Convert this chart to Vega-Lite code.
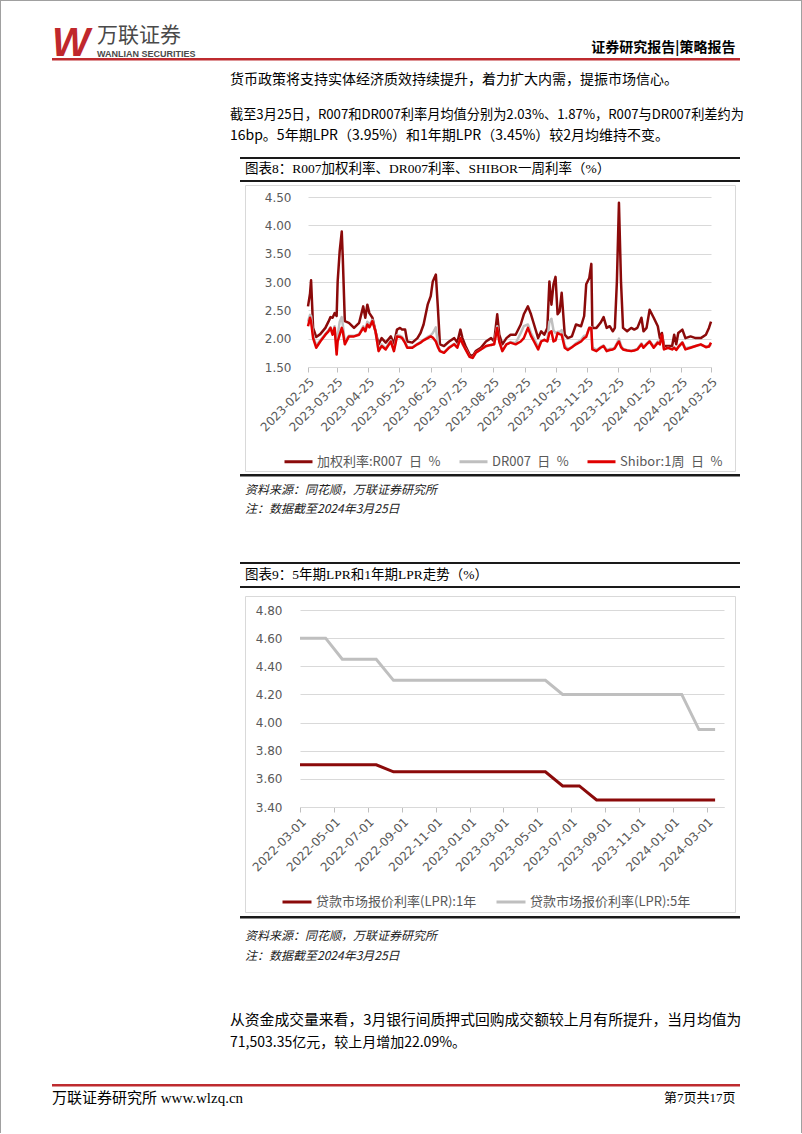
{
 "$schema": "https://vega.github.io/schema/vega-lite/v6.json",
 "background": "white",
 "padding": 0,
 "config": {"view": {"stroke": null}},
 "spacing": 0,
 "bounds": "flush",
 "resolve": {"scale": {"color": "independent"}, "legend": {"color": "independent"}},
 "vconcat": [
   {"width": 802, "height": 1, "data": {"values": []}, "mark": "point", "view": {"fill": "#A0A0A0", "stroke": null}},
   {"spacing": 0, "bounds": "flush", "hconcat": [
     {"width": 1, "height": 1132, "data": {"values": []}, "mark": "point", "view": {"fill": "#A0A0A0", "stroke": null}},
     {"width": 800, "height": 1132, "data": {"values": []}, "mark": "point"},
     {"width": 1, "height": 1132, "data": {"values": []}, "mark": "point", "view": {"fill": "#A0A0A0", "stroke": null}}
   ]},
   {"spacing": 0, "bounds": "flush", "hconcat": [
     {"width": 194, "height": 69, "data": {"values": [{"t": "万联证券"}]}, "mark": {"type": "text", "align": "left", "baseline": "middle", "font": "Noto Sans CJK SC", "fontSize": 21, "fontWeight": "normal", "color": "#4A4A4A"}, "encoding": {"text": {"field": "t", "type": "nominal"}}}
   ]},
   {"spacing": 0, "bounds": "flush", "hconcat": [
     {"width": 104, "height": 85, "data": {"values": [{"t": "W"}]}, "mark": {"type": "text", "align": "left", "baseline": "middle", "font": "Liberation Sans", "fontSize": 40, "fontWeight": "bold", "fontStyle": "italic", "color": "#C0282D"}, "encoding": {"text": {"field": "t", "type": "nominal"}}}
   ]},
   {"spacing": 0, "bounds": "flush", "hconcat": [
     {"width": 735, "height": 93, "data": {"values": []}, "mark": "point"},
     {"width": 1, "height": 93, "data": {"values": [{"t": "证券研究报告|策略报告"}]}, "mark": {"type": "text", "align": "right", "baseline": "middle", "font": "Noto Sans CJK SC", "fontSize": 14, "fontWeight": "bold", "color": "#000000"}, "encoding": {"text": {"field": "t", "type": "nominal"}}}
   ]},
   {"spacing": 0, "bounds": "flush", "hconcat": [
     {"width": 194, "height": 105, "data": {"values": [{"t": "WANLIAN SECURITIES"}]}, "mark": {"type": "text", "align": "left", "baseline": "middle", "font": "Liberation Sans", "fontSize": 9, "fontWeight": "bold", "color": "#4A4A4A"}, "encoding": {"text": {"field": "t", "type": "nominal"}}}
   ]},
   {"width": 1, "height": 56.5, "data": {"values": []}, "mark": "point"},
   {"spacing": 0, "bounds": "flush", "hconcat": [
     {"width": 52, "height": 2.5, "data": {"values": []}, "mark": "point"},
     {"width": 688, "height": 2.5, "data": {"values": []}, "mark": "point", "view": {"fill": "#BE2B2F", "stroke": null}}
   ]},
   {"width": 1, "height": 2.5, "data": {"values": []}, "mark": "point"},
   {"width": 460, "height": 38, "data": {"values": [{"t": "货币政策将支持实体经济质效持续提升，着力扩大内需，提振市场信心。"}]}, "mark": {"type": "text", "align": "left", "baseline": "middle", "font": "Noto Sans CJK SC", "fontSize": 14, "color": "#000000"}, "encoding": {"text": {"field": "t", "type": "nominal"}}},
   {"width": 460, "height": 32, "data": {"values": [{"t": "截至3月25日，R007和DR007利率月均值分别为2.03%、1.87%，R007与DR007利差约为"}]}, "mark": {"type": "text", "align": "left", "baseline": "middle", "font": "Noto Sans CJK SC", "fontSize": 13.2, "color": "#000000"}, "encoding": {"text": {"field": "t", "type": "nominal"}}},
   {"width": 460, "height": 10, "data": {"values": [{"t": "16bp。5年期LPR（3.95%）和1年期LPR（3.45%）较2月均维持不变。"}]}, "mark": {"type": "text", "align": "left", "baseline": "middle", "font": "Noto Sans CJK SC", "fontSize": 14, "color": "#000000"}, "encoding": {"text": {"field": "t", "type": "nominal"}}},
   {"width": 1, "height": 16, "data": {"values": []}, "mark": "point"},
   {"spacing": 0, "bounds": "flush", "hconcat": [
     {"width": 240, "height": 2, "data": {"values": []}, "mark": "point"},
     {"width": 500, "height": 2, "data": {"values": []}, "mark": "point", "view": {"fill": "#1A1A1A", "stroke": null}}
   ]},
   {"width": 1, "height": 2, "data": {"values": []}, "mark": "point"},
   {"width": 490, "height": 20, "data": {"values": [{"t": "图表8：R007加权利率、DR007利率、SHIBOR一周利率（%）"}]}, "mark": {"type": "text", "align": "left", "baseline": "middle", "font": "'Liberation Serif', 'Noto Sans CJK SC'", "fontSize": 13.5, "color": "#000000"}, "encoding": {"text": {"field": "t", "type": "nominal"}}},
   {"width": 1, "height": 1, "data": {"values": []}, "mark": "point"},
   {"spacing": 0, "bounds": "flush", "hconcat": [
     {"width": 240, "height": 2, "data": {"values": []}, "mark": "point"},
     {"width": 500, "height": 2, "data": {"values": []}, "mark": "point", "view": {"fill": "#1A1A1A", "stroke": null}}
   ]},
   {"width": 1, "height": 5, "data": {"values": []}, "mark": "point"},
   {"spacing": 0, "bounds": "flush", "hconcat": [
     {"width": 245, "height": 286, "data": {"values": []}, "mark": "point"},
     {"width": 490, "height": 286, "data": {"values": []}, "mark": "point", "view": {"fill": null, "stroke": "#D9D9D9", "strokeWidth": 1}}
   ]},
   {"width": 1, "height": 12, "data": {"values": []}, "mark": "point"},
   {"spacing": 0, "bounds": "flush", "resolve": {"scale": {"color": "independent"}, "legend": {"color": "independent"}}, "hconcat": [
     {"width": 308, "height": 170, "data": {"values": []}, "mark": "point"},
     {"width": 403, "height": 170,
      "data": {"values": [
{"d":"2023-02-25","R":2.57,"DR":2.30,"S":2.22},
{"d":"2023-02-27","R":2.80,"DR":2.42,"S":2.37},
{"d":"2023-02-28","R":3.03,"DR":2.40,"S":2.30},
{"d":"2023-03-02","R":2.19,"DR":2.05,"S":2.01},
{"d":"2023-03-05","R":2.03,"DR":1.88,"S":1.84},
{"d":"2023-03-09","R":2.08,"DR":1.97,"S":1.95},
{"d":"2023-03-14","R":2.19,"DR":2.08,"S":2.07},
{"d":"2023-03-17","R":2.30,"DR":2.15,"S":2.13},
{"d":"2023-03-19","R":2.38,"DR":2.20,"S":2.19},
{"d":"2023-03-21","R":2.37,"DR":2.10,"S":2.07},
{"d":"2023-03-23","R":2.45,"DR":2.22,"S":2.19},
{"d":"2023-03-25","R":2.40,"DR":1.90,"S":1.72},
{"d":"2023-03-26","R":3.01,"DR":2.05,"S":1.95},
{"d":"2023-03-28","R":3.55,"DR":2.30,"S":2.07},
{"d":"2023-03-30","R":3.89,"DR":2.38,"S":2.19},
{"d":"2023-03-31","R":3.43,"DR":2.25,"S":2.13},
{"d":"2023-04-02","R":2.31,"DR":1.95,"S":1.90},
{"d":"2023-04-06","R":2.28,"DR":2.05,"S":2.04},
{"d":"2023-04-11","R":2.19,"DR":2.05,"S":2.04},
{"d":"2023-04-16","R":2.28,"DR":2.08,"S":2.07},
{"d":"2023-04-20","R":2.57,"DR":2.22,"S":2.19},
{"d":"2023-04-22","R":2.37,"DR":2.15,"S":2.13},
{"d":"2023-04-24","R":2.60,"DR":2.30,"S":2.25},
{"d":"2023-04-26","R":2.45,"DR":2.25,"S":2.20},
{"d":"2023-04-29","R":2.37,"DR":2.33,"S":2.31},
{"d":"2023-05-02","R":2.13,"DR":2.12,"S":2.13},
{"d":"2023-05-05","R":1.90,"DR":1.80,"S":1.78},
{"d":"2023-05-08","R":2.01,"DR":1.90,"S":1.87},
{"d":"2023-05-12","R":1.93,"DR":1.83,"S":1.81},
{"d":"2023-05-17","R":2.04,"DR":1.97,"S":1.95},
{"d":"2023-05-20","R":1.90,"DR":1.80,"S":1.78},
{"d":"2023-05-23","R":2.16,"DR":2.06,"S":2.04},
{"d":"2023-05-26","R":2.19,"DR":2.05,"S":2.03},
{"d":"2023-05-28","R":2.16,"DR":2.03,"S":2.01},
{"d":"2023-05-31","R":2.16,"DR":1.95,"S":1.92},
{"d":"2023-06-02","R":1.95,"DR":1.85,"S":1.84},
{"d":"2023-06-07","R":1.93,"DR":1.85,"S":1.84},
{"d":"2023-06-12","R":2.01,"DR":1.91,"S":1.90},
{"d":"2023-06-15","R":2.10,"DR":1.94,"S":1.93},
{"d":"2023-06-18","R":2.25,"DR":1.98,"S":1.97},
{"d":"2023-06-22","R":2.60,"DR":2.03,"S":2.01},
{"d":"2023-06-25","R":2.75,"DR":2.06,"S":2.04},
{"d":"2023-06-27","R":3.01,"DR":2.10,"S":2.02},
{"d":"2023-06-30","R":3.13,"DR":2.20,"S":1.95},
{"d":"2023-07-02","R":2.54,"DR":1.90,"S":1.85},
{"d":"2023-07-04","R":1.90,"DR":1.78,"S":1.78},
{"d":"2023-07-08","R":1.87,"DR":1.76,"S":1.75},
{"d":"2023-07-13","R":1.95,"DR":1.85,"S":1.84},
{"d":"2023-07-18","R":2.01,"DR":1.91,"S":1.90},
{"d":"2023-07-21","R":1.93,"DR":1.85,"S":1.84},
{"d":"2023-07-24","R":2.16,"DR":2.00,"S":2.01},
{"d":"2023-07-26","R":2.01,"DR":1.90,"S":1.92},
{"d":"2023-07-29","R":1.87,"DR":1.82,"S":1.81},
{"d":"2023-08-02","R":1.72,"DR":1.68,"S":1.68},
{"d":"2023-08-05","R":1.69,"DR":1.66,"S":1.66},
{"d":"2023-08-08","R":1.78,"DR":1.75,"S":1.75},
{"d":"2023-08-13","R":1.84,"DR":1.81,"S":1.81},
{"d":"2023-08-18","R":1.95,"DR":1.86,"S":1.87},
{"d":"2023-08-23","R":2.01,"DR":1.89,"S":1.89},
{"d":"2023-08-26","R":1.95,"DR":1.90,"S":1.90},
{"d":"2023-08-29","R":2.43,"DR":2.22,"S":2.19},
{"d":"2023-08-31","R":2.07,"DR":1.95,"S":1.95},
{"d":"2023-09-03","R":1.90,"DR":1.79,"S":1.78},
{"d":"2023-09-07","R":2.01,"DR":1.90,"S":1.90},
{"d":"2023-09-11","R":2.07,"DR":1.94,"S":1.93},
{"d":"2023-09-16","R":2.07,"DR":1.92,"S":1.90},
{"d":"2023-09-21","R":2.25,"DR":2.10,"S":1.95},
{"d":"2023-09-24","R":2.43,"DR":2.22,"S":2.01},
{"d":"2023-09-28","R":2.57,"DR":2.25,"S":2.19},
{"d":"2023-10-01","R":2.43,"DR":2.10,"S":2.05},
{"d":"2023-10-04","R":2.25,"DR":2.00,"S":1.95},
{"d":"2023-10-08","R":2.01,"DR":1.85,"S":1.81},
{"d":"2023-10-11","R":2.13,"DR":1.96,"S":1.95},
{"d":"2023-10-14","R":2.07,"DR":1.98,"S":1.98},
{"d":"2023-10-17","R":2.19,"DR":1.97,"S":1.95},
{"d":"2023-10-19","R":3.01,"DR":2.30,"S":2.10},
{"d":"2023-10-21","R":2.60,"DR":2.35,"S":2.13},
{"d":"2023-10-23","R":2.96,"DR":2.15,"S":1.95},
{"d":"2023-10-25","R":3.09,"DR":2.10,"S":1.97},
{"d":"2023-10-27","R":2.43,"DR":2.12,"S":2.10},
{"d":"2023-10-29","R":2.48,"DR":2.12,"S":2.08},
{"d":"2023-10-31","R":2.81,"DR":2.15,"S":2.07},
{"d":"2023-11-03","R":2.07,"DR":1.88,"S":1.84},
{"d":"2023-11-06","R":2.01,"DR":1.82,"S":1.80},
{"d":"2023-11-10","R":2.04,"DR":1.85,"S":1.85},
{"d":"2023-11-14","R":2.25,"DR":1.92,"S":1.90},
{"d":"2023-11-19","R":2.22,"DR":1.98,"S":1.95},
{"d":"2023-11-22","R":2.40,"DR":2.05,"S":2.01},
{"d":"2023-11-24","R":2.96,"DR":2.05,"S":2.03},
{"d":"2023-11-27","R":3.07,"DR":2.20,"S":2.19},
{"d":"2023-11-29","R":3.32,"DR":2.20,"S":2.19},
{"d":"2023-11-30","R":2.19,"DR":1.85,"S":1.81},
{"d":"2023-12-04","R":2.19,"DR":1.80,"S":1.78},
{"d":"2023-12-08","R":2.28,"DR":1.85,"S":1.84},
{"d":"2023-12-11","R":2.38,"DR":1.88,"S":1.87},
{"d":"2023-12-14","R":2.19,"DR":1.80,"S":1.78},
{"d":"2023-12-17","R":2.22,"DR":1.82,"S":1.80},
{"d":"2023-12-20","R":2.13,"DR":1.82,"S":1.81},
{"d":"2023-12-22","R":2.19,"DR":1.85,"S":1.83},
{"d":"2023-12-24","R":3.01,"DR":1.92,"S":1.90},
{"d":"2023-12-26","R":4.40,"DR":2.00,"S":1.95},
{"d":"2023-12-28","R":3.01,"DR":1.88,"S":1.85},
{"d":"2023-12-30","R":2.19,"DR":1.82,"S":1.81},
{"d":"2024-01-03","R":2.13,"DR":1.80,"S":1.79},
{"d":"2024-01-07","R":2.19,"DR":1.79,"S":1.78},
{"d":"2024-01-10","R":2.16,"DR":1.80,"S":1.79},
{"d":"2024-01-13","R":2.19,"DR":1.82,"S":1.81},
{"d":"2024-01-17","R":2.37,"DR":1.92,"S":1.90},
{"d":"2024-01-19","R":2.13,"DR":1.85,"S":1.84},
{"d":"2024-01-22","R":2.19,"DR":1.91,"S":1.90},
{"d":"2024-01-25","R":2.51,"DR":1.96,"S":1.95},
{"d":"2024-01-29","R":2.37,"DR":1.86,"S":1.84},
{"d":"2024-02-02","R":2.22,"DR":1.95,"S":1.93},
{"d":"2024-02-04","R":2.01,"DR":1.92,"S":1.90},
{"d":"2024-02-06","R":2.10,"DR":2.05,"S":2.07},
{"d":"2024-02-08","R":1.87,"DR":1.82,"S":1.81},
{"d":"2024-02-12","R":1.87,"DR":1.84,"S":1.84},
{"d":"2024-02-16","R":1.87,"DR":1.82,"S":1.81},
{"d":"2024-02-18","R":2.07,"DR":1.85,"S":1.84},
{"d":"2024-02-20","R":1.90,"DR":1.81,"S":1.80},
{"d":"2024-02-22","R":2.10,"DR":1.86,"S":1.85},
{"d":"2024-02-26","R":2.16,"DR":1.94,"S":1.93},
{"d":"2024-02-29","R":2.01,"DR":1.83,"S":1.81},
{"d":"2024-03-05","R":2.04,"DR":1.85,"S":1.84},
{"d":"2024-03-10","R":2.01,"DR":1.87,"S":1.87},
{"d":"2024-03-15","R":2.01,"DR":1.89,"S":1.90},
{"d":"2024-03-20","R":2.07,"DR":1.86,"S":1.85},
{"d":"2024-03-23","R":2.19,"DR":1.87,"S":1.86},
{"d":"2024-03-25","R":2.30,"DR":1.90,"S":1.93}
      ]},
      "transform": [{"fold": ["R", "DR", "S"], "as": ["s", "v"]}],
      "mark": {"type": "line", "strokeWidth": 2.5, "strokeJoin": "round"},
      "encoding": {
        "x": {"field": "d", "type": "temporal",
              "scale": {"type": "utc", "domain": [{"year": 2023, "month": 2, "date": 25, "utc": true}, {"year": 2024, "month": 3, "date": 25, "utc": true}]},
              "axis": {"title": null, "format": "%Y-%m-%d", "labelAngle": -45, "labelAlign": "right", "labelBaseline": "top", "labelPadding": 4, "labelFont": "DejaVu Sans", "labelFontSize": 12, "labelColor": "#595959", "labelOverlap": false, "labelFlush": false, "grid": false, "domainColor": "#D9D9D9", "tickColor": "#BFBFBF", "tickSize": 5,
                "values": [{"year": 2023, "month": 2, "date": 25, "utc": true}, {"year": 2023, "month": 3, "date": 25, "utc": true}, {"year": 2023, "month": 4, "date": 25, "utc": true}, {"year": 2023, "month": 5, "date": 25, "utc": true}, {"year": 2023, "month": 6, "date": 25, "utc": true}, {"year": 2023, "month": 7, "date": 25, "utc": true}, {"year": 2023, "month": 8, "date": 25, "utc": true}, {"year": 2023, "month": 9, "date": 25, "utc": true}, {"year": 2023, "month": 10, "date": 25, "utc": true}, {"year": 2023, "month": 11, "date": 25, "utc": true}, {"year": 2023, "month": 12, "date": 25, "utc": true}, {"year": 2024, "month": 1, "date": 25, "utc": true}, {"year": 2024, "month": 2, "date": 25, "utc": true}, {"year": 2024, "month": 3, "date": 25, "utc": true}]}},
        "y": {"field": "v", "type": "quantitative",
              "scale": {"domain": [1.5, 4.5], "nice": false, "zero": false},
              "axis": {"title": null, "values": [1.5, 2, 2.5, 3, 3.5, 4, 4.5], "format": ".2f", "labelOverlap": false, "domain": false, "ticks": false, "grid": true, "gridColor": "#D9D9D9", "labelPadding": 17, "labelFont": "DejaVu Sans", "labelFontSize": 12, "labelColor": "#595959"}},
        "color": {"field": "s", "type": "nominal",
              "scale": {"domain": ["R", "DR", "S"], "range": ["#8B0A0A", "#BFBFBF", "#E00000"]},
              "legend": {"orient": "none", "legendX": -25, "legendY": 249, "direction": "horizontal", "title": null, "symbolType": "stroke", "symbolSize": 784, "symbolStrokeWidth": 3, "labelFont": "Noto Sans CJK SC", "labelFontSize": 13, "labelColor": "#595959", "columnPadding": 12, "labelOffset": 3, "labelLimit": 300,
                "labelExpr": "datum.value == 'R' ? '加权利率:R007\u2002日\u2002%' : datum.value == 'DR' ? 'DR007\u2002日\u2002%' : 'Shibor:1周\u2002日\u2002%'"}}
      }}
   ]},
   {"width": 1, "height": 277, "data": {"values": []}, "mark": "point"},
   {"spacing": 0, "bounds": "flush", "hconcat": [
     {"width": 240, "height": 2.5, "data": {"values": []}, "mark": "point"},
     {"width": 500, "height": 2.5, "data": {"values": []}, "mark": "point", "view": {"fill": "#1A1A1A", "stroke": null}}
   ]},
   {"width": 1, "height": 2.5, "data": {"values": []}, "mark": "point"},
   {"width": 490, "height": 25, "data": {"values": [{"t": "资料来源：同花顺，万联证券研究所"}]}, "mark": {"type": "text", "align": "left", "baseline": "middle", "font": "Noto Sans CJK SC", "fontSize": 12, "fontStyle": "italic", "color": "#222222"}, "encoding": {"text": {"field": "t", "type": "nominal"}}},
   {"width": 490, "height": 13, "data": {"values": [{"t": "注：数据截至2024年3月25日"}]}, "mark": {"type": "text", "align": "left", "baseline": "middle", "font": "Noto Sans CJK SC", "fontSize": 12, "fontStyle": "italic", "color": "#222222"}, "encoding": {"text": {"field": "t", "type": "nominal"}}},
   {"width": 1, "height": 46.5, "data": {"values": []}, "mark": "point"},
   {"spacing": 0, "bounds": "flush", "hconcat": [
     {"width": 240, "height": 2, "data": {"values": []}, "mark": "point"},
     {"width": 500, "height": 2, "data": {"values": []}, "mark": "point", "view": {"fill": "#1A1A1A", "stroke": null}}
   ]},
   {"width": 1, "height": 2, "data": {"values": []}, "mark": "point"},
   {"width": 490, "height": 22, "data": {"values": [{"t": "图表9：5年期LPR和1年期LPR走势（%）"}]}, "mark": {"type": "text", "align": "left", "baseline": "middle", "font": "'Liberation Serif', 'Noto Sans CJK SC'", "fontSize": 13.5, "color": "#000000"}, "encoding": {"text": {"field": "t", "type": "nominal"}}},
   {"spacing": 0, "bounds": "flush", "hconcat": [
     {"width": 240, "height": 2, "data": {"values": []}, "mark": "point"},
     {"width": 500, "height": 2, "data": {"values": []}, "mark": "point", "view": {"fill": "#1A1A1A", "stroke": null}}
   ]},
   {"width": 1, "height": 10, "data": {"values": []}, "mark": "point"},
   {"spacing": 0, "bounds": "flush", "hconcat": [
     {"width": 245, "height": 316, "data": {"values": []}, "mark": "point"},
     {"width": 490, "height": 316, "data": {"values": []}, "mark": "point", "view": {"fill": null, "stroke": "#D9D9D9", "strokeWidth": 1}}
   ]},
   {"width": 1, "height": 14, "data": {"values": []}, "mark": "point"},
   {"spacing": 0, "bounds": "flush", "resolve": {"scale": {"color": "independent"}, "legend": {"color": "independent"}}, "hconcat": [
     {"width": 300, "height": 197, "data": {"values": []}, "mark": "point"},
     {"width": 424, "height": 197,
      "data": {"values": [
{"d":"2022-02-16","a":3.70,"b":4.60},
{"d":"2022-03-16","a":3.70,"b":4.60},
{"d":"2022-04-16","a":3.70,"b":4.60},
{"d":"2022-05-16","a":3.70,"b":4.45},
{"d":"2022-06-16","a":3.70,"b":4.45},
{"d":"2022-07-16","a":3.70,"b":4.45},
{"d":"2022-08-16","a":3.65,"b":4.30},
{"d":"2022-09-16","a":3.65,"b":4.30},
{"d":"2022-10-16","a":3.65,"b":4.30},
{"d":"2022-11-16","a":3.65,"b":4.30},
{"d":"2022-12-16","a":3.65,"b":4.30},
{"d":"2023-01-16","a":3.65,"b":4.30},
{"d":"2023-02-16","a":3.65,"b":4.30},
{"d":"2023-03-16","a":3.65,"b":4.30},
{"d":"2023-04-16","a":3.65,"b":4.30},
{"d":"2023-05-16","a":3.65,"b":4.30},
{"d":"2023-06-16","a":3.55,"b":4.20},
{"d":"2023-07-16","a":3.55,"b":4.20},
{"d":"2023-08-16","a":3.45,"b":4.20},
{"d":"2023-09-16","a":3.45,"b":4.20},
{"d":"2023-10-16","a":3.45,"b":4.20},
{"d":"2023-11-16","a":3.45,"b":4.20},
{"d":"2023-12-16","a":3.45,"b":4.20},
{"d":"2024-01-16","a":3.45,"b":4.20},
{"d":"2024-02-16","a":3.45,"b":3.95},
{"d":"2024-03-16","a":3.45,"b":3.95}
      ]},
      "transform": [{"fold": ["a", "b"], "as": ["s", "v"]}],
      "mark": {"type": "line", "strokeWidth": 3, "clip": true},
      "encoding": {
        "x": {"field": "d", "type": "temporal",
              "scale": {"type": "utc", "domain": [{"year": 2022, "month": 3, "date": 1, "utc": true}, {"year": 2024, "month": 4, "date": 1, "utc": true}]},
              "axis": {"title": null, "format": "%Y-%m-%d", "labelAngle": -45, "labelAlign": "right", "labelBaseline": "top", "labelPadding": 4, "labelFont": "DejaVu Sans", "labelFontSize": 12, "labelColor": "#595959", "labelOverlap": false, "labelFlush": false, "grid": false, "domainColor": "#D9D9D9", "tickColor": "#BFBFBF", "tickSize": 5,
                "values": [{"year": 2022, "month": 3, "date": 1, "utc": true}, {"year": 2022, "month": 5, "date": 1, "utc": true}, {"year": 2022, "month": 7, "date": 1, "utc": true}, {"year": 2022, "month": 9, "date": 1, "utc": true}, {"year": 2022, "month": 11, "date": 1, "utc": true}, {"year": 2023, "month": 1, "date": 1, "utc": true}, {"year": 2023, "month": 3, "date": 1, "utc": true}, {"year": 2023, "month": 5, "date": 1, "utc": true}, {"year": 2023, "month": 7, "date": 1, "utc": true}, {"year": 2023, "month": 9, "date": 1, "utc": true}, {"year": 2023, "month": 11, "date": 1, "utc": true}, {"year": 2024, "month": 1, "date": 1, "utc": true}, {"year": 2024, "month": 3, "date": 1, "utc": true}]}},
        "y": {"field": "v", "type": "quantitative",
              "scale": {"domain": [3.4, 4.8], "nice": false, "zero": false},
              "axis": {"title": null, "values": [3.4, 3.6, 3.8, 4.0, 4.2, 4.4, 4.6, 4.8], "format": ".2f", "labelOverlap": false, "domain": false, "ticks": false, "grid": true, "gridColor": "#D9D9D9", "labelPadding": 18, "labelFont": "DejaVu Sans", "labelFontSize": 12, "labelColor": "#595959"}},
        "color": {"field": "s", "type": "nominal",
              "scale": {"domain": ["a", "b"], "range": ["#8B0A0A", "#BFBFBF"]},
              "legend": {"orient": "none", "legendX": -19, "legendY": 276, "direction": "horizontal", "title": null, "symbolType": "stroke", "symbolSize": 841, "symbolStrokeWidth": 3, "labelFont": "Noto Sans CJK SC", "labelFontSize": 13, "labelColor": "#595959", "columnPadding": 13, "labelOffset": 3, "labelLimit": 300,
                "labelExpr": "datum.value == 'a' ? '贷款市场报价利率(LPR):1年' : '贷款市场报价利率(LPR):5年'"}}
      }}
   ]},
   {"width": 1, "height": 306, "data": {"values": []}, "mark": "point"},
   {"spacing": 0, "bounds": "flush", "hconcat": [
     {"width": 240, "height": 2.5, "data": {"values": []}, "mark": "point"},
     {"width": 500, "height": 2.5, "data": {"values": []}, "mark": "point", "view": {"fill": "#1A1A1A", "stroke": null}}
   ]},
   {"width": 1, "height": 2.5, "data": {"values": []}, "mark": "point"},
   {"width": 490, "height": 33, "data": {"values": [{"t": "资料来源：同花顺，万联证券研究所"}]}, "mark": {"type": "text", "align": "left", "baseline": "middle", "font": "Noto Sans CJK SC", "fontSize": 12, "fontStyle": "italic", "color": "#222222"}, "encoding": {"text": {"field": "t", "type": "nominal"}}},
   {"width": 490, "height": 7, "data": {"values": [{"t": "注：数据截至2024年3月25日"}]}, "mark": {"type": "text", "align": "left", "baseline": "middle", "font": "Noto Sans CJK SC", "fontSize": 12, "fontStyle": "italic", "color": "#222222"}, "encoding": {"text": {"field": "t", "type": "nominal"}}},
   {"width": 1, "height": 50.5, "data": {"values": []}, "mark": "point"},
   {"width": 460, "height": 22, "data": {"values": [{"t": "从资金成交量来看，3月银行间质押式回购成交额较上月有所提升，当月均值为"}]}, "mark": {"type": "text", "align": "left", "baseline": "middle", "font": "Noto Sans CJK SC", "fontSize": 14.8, "color": "#000000"}, "encoding": {"text": {"field": "t", "type": "nominal"}}},
   {"width": 460, "height": 22, "data": {"values": [{"t": "71,503.35亿元，较上月增加22.09%。"}]}, "mark": {"type": "text", "align": "left", "baseline": "middle", "font": "Noto Sans CJK SC", "fontSize": 14, "color": "#000000"}, "encoding": {"text": {"field": "t", "type": "nominal"}}},
   {"width": 1, "height": 30, "data": {"values": []}, "mark": "point"},
   {"spacing": 0, "bounds": "flush", "hconcat": [
     {"width": 52, "height": 2.5, "data": {"values": []}, "mark": "point"},
     {"width": 688, "height": 2.5, "data": {"values": []}, "mark": "point", "view": {"fill": "#BE2B2F", "stroke": null}}
   ]},
   {"width": 1, "height": 2.5, "data": {"values": []}, "mark": "point"},
   {"spacing": 0, "bounds": "flush", "hconcat": [
     {"width": 104, "height": 21, "data": {"values": [{"t": "万联证券研究所 www.wlzq.cn"}]}, "mark": {"type": "text", "align": "left", "baseline": "middle", "font": "'Liberation Serif', 'Noto Sans CJK SC'", "fontSize": 15, "color": "#000000"}, "encoding": {"text": {"field": "t", "type": "nominal"}}},
     {"width": 631, "height": 21, "data": {"values": []}, "mark": "point"},
     {"width": 1, "height": 21, "data": {"values": [{"t": "第7页共17页"}]}, "mark": {"type": "text", "align": "right", "baseline": "middle", "font": "'Liberation Serif', 'Noto Sans CJK SC'", "fontSize": 13, "color": "#000000"}, "encoding": {"text": {"field": "t", "type": "nominal"}}}
   ]},
   {"width": 1, "height": 49.5, "data": {"values": []}, "mark": "point"},
   {"width": 802, "height": 1, "data": {"values": []}, "mark": "point", "view": {"fill": "#A0A0A0", "stroke": null}}
 ]
}
